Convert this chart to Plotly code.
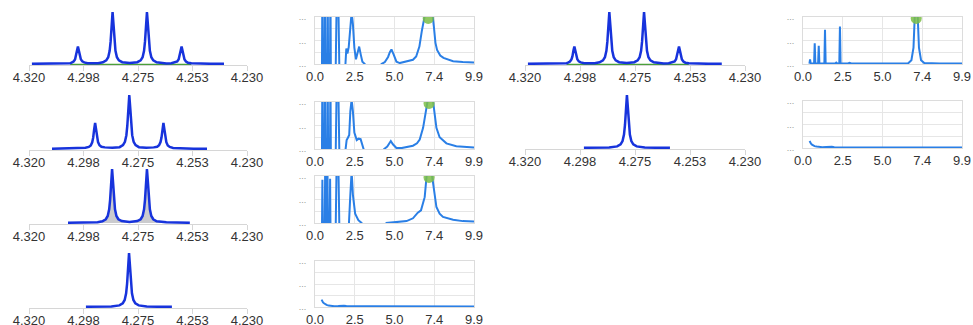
import plotly.graph_objects as go

# ---------------- data ----------------
ppm_ticks = [4.320, 4.2975, 4.275, 4.2525, 4.230]
ppm_labels = ["4.320", "4.298", "4.275", "4.253", "4.230"]
freq_ticks = [0.0, 2.475, 4.95, 7.425, 9.9]
freq_labels = ["0.0", "2.5", "5.0", "7.4", "9.9"]
y_ticks = [0, 0.25, 0.5, 0.75, 1]
y_labels = ["...", "", "...", "", "..."]

# quartet spectrum
q_ppm = [4.3188, 4.3100, 4.3050, 4.3030, 4.3024, 4.3016, 4.3010, 4.3006, 4.3002, 4.2998,
         4.2994, 4.2990, 4.2986, 4.2980, 4.2972, 4.2958, 4.2935, 4.2915, 4.2895, 4.2881,
         4.2873, 4.2867, 4.2863, 4.2859, 4.2855, 4.2851, 4.2847, 4.2843, 4.2837, 4.2829,
         4.2815, 4.2784, 4.2753, 4.2739, 4.2731, 4.2725, 4.2721, 4.2717, 4.2713, 4.2709,
         4.2705, 4.2701, 4.2695, 4.2687, 4.2673, 4.2653, 4.2633, 4.2612, 4.2598, 4.2588,
         4.2582, 4.2578, 4.2574, 4.2570, 4.2566, 4.2562, 4.2558, 4.2552, 4.2544, 4.2530,
         4.2510, 4.2450, 4.2395]
q_int = [0.003, 0.005, 0.010, 0.016, 0.025, 0.047, 0.088, 0.147, 0.253, 0.334,
         0.253, 0.150, 0.090, 0.050, 0.030, 0.015, 0.012, 0.016, 0.032, 0.070,
         0.131, 0.254, 0.434, 0.754, 1.000, 0.754, 0.434, 0.254, 0.131, 0.070,
         0.035, 0.020, 0.035, 0.070, 0.131, 0.254, 0.434, 0.754, 1.000, 0.754,
         0.434, 0.254, 0.131, 0.070, 0.032, 0.016, 0.012, 0.015, 0.030, 0.050,
         0.090, 0.150, 0.253, 0.334, 0.253, 0.147, 0.088, 0.047, 0.025, 0.013,
         0.008, 0.004, 0.003]
fit_ppm = [4.3030, 4.2530]
fit_int = [-0.012, -0.012]

# triplet spectrum
t_ppm = [4.3105, 4.3030, 4.2990, 4.2967, 4.2953, 4.2945, 4.2939, 4.2935, 4.2931, 4.2927,
         4.2923, 4.2919, 4.2915, 4.2909, 4.2901, 4.2887, 4.2856, 4.2826, 4.2812, 4.2804,
         4.2798, 4.2794, 4.2790, 4.2786, 4.2782, 4.2778, 4.2774, 4.2768, 4.2760, 4.2746,
         4.2716, 4.2685, 4.2671, 4.2663, 4.2657, 4.2653, 4.2649, 4.2645, 4.2641, 4.2637,
         4.2633, 4.2627, 4.2619, 4.2605, 4.2570, 4.2520, 4.2465]
t_int = [0.004, 0.008, 0.014, 0.022, 0.038, 0.066, 0.125, 0.210, 0.364, 0.482,
         0.364, 0.212, 0.128, 0.070, 0.042, 0.030, 0.022, 0.034, 0.072, 0.134,
         0.256, 0.436, 0.756, 1.000, 0.756, 0.436, 0.256, 0.134, 0.072, 0.034,
         0.022, 0.030, 0.042, 0.070, 0.128, 0.212, 0.364, 0.482, 0.364, 0.210,
         0.125, 0.066, 0.038, 0.020, 0.010, 0.006, 0.004]

# doublet spectrum
d_ppm = [4.3039, 4.2980, 4.2937, 4.2917, 4.2897, 4.2883, 4.2875, 4.2869, 4.2865, 4.2861,
         4.2857, 4.2853, 4.2849, 4.2845, 4.2839, 4.2831, 4.2817, 4.2785, 4.2753, 4.2739,
         4.2731, 4.2725, 4.2721, 4.2717, 4.2713, 4.2709, 4.2705, 4.2701, 4.2695, 4.2687,
         4.2673, 4.2653, 4.2633, 4.2590, 4.2536]
d_int = [0.004, 0.008, 0.012, 0.016, 0.032, 0.070, 0.131, 0.254, 0.434, 0.754,
         1.000, 0.754, 0.434, 0.254, 0.131, 0.070, 0.035, 0.020, 0.035, 0.070,
         0.131, 0.254, 0.434, 0.754, 1.000, 0.754, 0.434, 0.254, 0.131, 0.070,
         0.032, 0.016, 0.012, 0.008, 0.004]

# singlet spectra
s_ppm = [4.2965, 4.2900, 4.2860, 4.2827, 4.2813, 4.2805, 4.2799, 4.2795, 4.2791, 4.2787,
         4.2783, 4.2779, 4.2775, 4.2769, 4.2761, 4.2747, 4.2714, 4.2670, 4.2610]
s_int = [0.004, 0.006, 0.010, 0.030, 0.068, 0.131, 0.254, 0.434, 0.754, 1.000,
         0.754, 0.434, 0.254, 0.131, 0.068, 0.030, 0.010, 0.006, 0.004]
s2_ppm = [4.2959, 4.2896, 4.2856, 4.2823, 4.2809, 4.2801, 4.2795, 4.2791, 4.2787, 4.2783,
          4.2779, 4.2775, 4.2771, 4.2765, 4.2757, 4.2743, 4.2710, 4.2666, 4.2607]
s2_int = [0.004, 0.006, 0.010, 0.030, 0.068, 0.131, 0.254, 0.434, 0.754, 1.000,
          0.754, 0.434, 0.254, 0.131, 0.068, 0.030, 0.010, 0.006, 0.004]

# second-column curves
a1_x = [0.43, 0.46, 0.49, 0.59, 0.62, 0.65, 0.76, 0.79, 0.82, 0.93, 0.96, 0.99, 1.28, 1.36, 1.44,
        1.53, 1.70, 1.88, 1.95, 2.02, 2.10, 2.20, 2.28, 2.36, 2.45, 2.55, 2.65, 2.75, 2.85, 2.95,
        3.10, 3.30, 3.90, 4.14, 4.35, 4.55, 4.66, 4.76, 4.90, 5.07, 5.28, 5.50, 5.80, 6.10, 6.30,
        6.50, 6.65, 6.75, 6.90, 7.10, 7.30, 7.40, 7.50, 7.60, 7.80, 8.00, 8.30, 8.60, 9.20, 9.90]
a1_y = [-0.3, 1.7, -0.3, -0.3, 1.7, -0.3, -0.3, 1.7, -0.3, -0.3, 1.7, -0.3, -0.3, 1.6, 1.6,
        -0.4, -0.6, -0.1, 0.33, 0.22, 0.36, 0.85, 1.1, 0.85, 0.35, 0.10, 0.22, 0.37, 0.20, 0.05,
        0.0, -0.2, -0.2, 0.0, 0.04, 0.15, 0.25, 0.31, 0.20, 0.05, 0.02, 0.035, 0.06, 0.09, 0.16,
        0.37, 0.70, 1.0, 1.15, 1.2, 1.1, 0.8, 0.45, 0.30, 0.18, 0.13, 0.09, 0.06, 0.04, 0.03]

a2_x = [0.43, 0.46, 0.49, 0.59, 0.62, 0.65, 0.76, 0.79, 0.82, 0.93, 0.96, 0.99, 1.28, 1.36, 1.44,
        1.53, 1.70, 1.90, 1.97, 2.05, 2.13, 2.20, 2.28, 2.36, 2.45, 2.60, 2.72, 2.84, 2.95, 3.04,
        3.20, 4.10, 4.30, 4.50, 4.62, 4.72, 4.85, 5.07, 5.40, 5.80, 6.10, 6.35, 6.52, 6.73, 6.94,
        7.10, 7.30, 7.45, 7.56, 7.76, 8.18, 8.80, 9.90]
a2_y = [-0.3, 1.7, -0.3, -0.3, 1.7, -0.3, -0.3, 1.7, -0.3, -0.3, 1.7, -0.3, -0.3, 1.6, 1.6,
        -0.4, -0.6, -0.1, 0.19, 0.24, 0.30, 0.8, 1.05, 0.8, 0.35, 0.19, 0.22, 0.21, 0.08, 0.0,
        -0.2, -0.2, 0.0, 0.05, 0.12, 0.17, 0.10, 0.02, 0.02, 0.04, 0.07, 0.12, 0.20, 0.45, 0.85,
        1.2, 1.15, 0.75, 0.45, 0.25, 0.12, 0.06, 0.03]

a3_x = [0.43, 0.46, 0.49, 0.60, 0.645, 0.69, 0.72, 0.765, 0.81, 0.91, 0.94, 0.97, 1.28, 1.36, 1.44,
        1.53, 1.80, 2.10, 2.20, 2.28, 2.36, 2.50, 2.70, 2.90, 3.20, 4.30, 4.45, 5.00,
        5.70, 6.10, 6.40, 6.60, 6.83, 6.95, 7.10, 7.25, 7.35, 7.56, 7.76, 7.97, 8.60, 9.20, 9.90]
a3_y = [-0.3, 0.92, -0.3, -0.3, 1.7, -0.3, -0.3, 1.7, -0.3, -0.3, 0.94, -0.3, -0.3, 1.6, 1.6,
        -0.4, -0.5, -0.1, 0.6, 1.1, 0.6, 0.2, 0.06, 0.0, -0.2, -0.2, 0.0, 0.02,
        0.04, 0.10, 0.22, 0.27, 0.55, 1.0, 1.2, 1.1, 0.84, 0.34, 0.2, 0.13, 0.07, 0.04, 0.03]

a4_x = [0.41, 0.45, 0.50, 0.56, 0.63, 0.72, 0.85, 1.00, 1.20, 1.45, 1.65, 1.80, 1.95, 2.20, 2.60,
        3.50, 5.00, 6.50, 8.00, 9.90]
a4_y = [0.16, 0.12, 0.10, 0.08, 0.06, 0.045, 0.03, 0.02, 0.018, 0.02, 0.03, 0.028, 0.02, 0.016, 0.015,
        0.015, 0.014, 0.014, 0.013, 0.013]

# fourth-column curves
b1_x = [0.40, 0.44, 0.48, 0.69, 0.73, 0.77, 0.94, 0.98, 1.02, 1.33, 1.37, 1.41, 2.00, 2.07, 2.14,
        2.26, 2.30, 2.34, 2.80, 2.90, 3.00, 4.20, 4.35, 4.50, 4.70, 4.80, 4.90, 6.55, 6.75, 6.88,
        6.98, 7.05, 7.12, 7.22, 7.35, 7.55, 8.50, 9.90]
b1_y = [0.01, 0.10, 0.01, 0.01, 0.44, 0.01, 0.01, 0.39, 0.01, 0.01, 0.73, 0.01, 0.01, 0.03, 0.01,
        0.01, 0.80, 0.01, 0.01, 0.025, 0.01, 0.01, 0.02, 0.01, 0.012, 0.02, 0.01, 0.015, 0.08, 0.35,
        1.2, 1.5, 1.2, 0.35, 0.08, 0.02, 0.012, 0.01]

b2_x = [0.41, 0.45, 0.50, 0.56, 0.63, 0.72, 0.85, 1.00, 1.20, 1.45, 1.65, 1.80, 1.95, 2.20, 2.60,
        3.50, 5.00, 6.50, 8.00, 9.90]
b2_y = [0.15, 0.11, 0.09, 0.07, 0.055, 0.04, 0.03, 0.02, 0.018, 0.02, 0.028, 0.025, 0.018, 0.015, 0.014,
        0.013, 0.013, 0.012, 0.012, 0.012]

peak_marker_x = [7.05, 7.10, 7.10, 7.05]
peak_marker_y = [0.97, 0.97, 0.97, 0.97]

# ---------------- styling ----------------
W, H = 973, 325
NMR_BLUE = "#1733dc"
SPEC_BLUE = "#2a7fe6"
GREEN = "rgba(125,190,70,0.85)"
AXIS_GRAY = "#d6d6d6"
GRID_GRAY = "#e6e6e6"
FONT = "Liberation Sans, Arial, Helvetica, sans-serif"

fig = go.Figure()
layout = dict(width=W, height=H, margin=dict(l=0, r=0, t=0, b=0, autoexpand=False),
              paper_bgcolor="white", plot_bgcolor="white", showlegend=False,
              font=dict(family=FONT, size=13, color="#333"))

counter = [0]


def new_axes(xdom, ydom, xcfg, ycfg):
    counter[0] += 1
    n = counter[0]
    xa = "xaxis" if n == 1 else f"xaxis{n}"
    ya = "yaxis" if n == 1 else f"yaxis{n}"
    xr = "x" if n == 1 else f"x{n}"
    yr = "y" if n == 1 else f"y{n}"
    layout[xa] = dict(domain=[xdom[0] / W, xdom[1] / W], anchor=yr, automargin=False, **xcfg)
    layout[ya] = dict(domain=[1 - ydom[0] / H, 1 - ydom[1] / H], anchor=xr, automargin=False, **ycfg)
    return xr, yr


def nmr_panel(x0, x1, axis_px, apex_px, x, y, fill=False, fit=False):
    h = axis_px - apex_px
    xcfg = dict(range=[4.320, 4.230], tickvals=ppm_ticks, ticktext=ppm_labels,
                showline=True, linecolor=AXIS_GRAY, linewidth=1,
                ticks="outside", ticklen=5, tickcolor=AXIS_GRAY,
                ticklabelstandoff=-5,
                showgrid=False, zeroline=False,
                tickfont=dict(size=13, color="#333"))
    ycfg = dict(range=[-1.0 / h, 1 + 3.0 / h], visible=False)
    xr, yr = new_axes((x0, x1), (axis_px + 1, apex_px - 3), xcfg, ycfg)
    if fit:
        fig.add_trace(go.Scatter(x=fit_ppm, y=fit_int, mode="lines", xaxis=xr, yaxis=yr,
                                 line=dict(color="#4a9f3a", width=1.5), hoverinfo="skip"))
    fig.add_trace(go.Scatter(x=x, y=y, mode="lines", xaxis=xr, yaxis=yr,
                             line=dict(color=NMR_BLUE, width=2.5),
                             fill="tozeroy" if fill else None,
                             fillcolor="rgba(185,185,190,0.75)" if fill else None))


def spec_panel(x0, x1, top_px, bottom_px, x, y, mk=None):
    xcfg = dict(range=[0, 9.9], tickvals=freq_ticks, ticktext=freq_labels,
                showline=True, mirror=True, linecolor="#dcdcdc", linewidth=1,
                showgrid=True, gridcolor=GRID_GRAY, zeroline=False,
                ticks="outside", ticklen=5, tickcolor="rgba(0,0,0,0)",
                ticklabelstandoff=-5,
                tickfont=dict(size=13, color="#333"))
    ycfg = dict(range=[0, 1], tickvals=y_ticks, ticktext=y_labels,
                showline=True, mirror=True, linecolor="#dcdcdc", linewidth=1,
                showgrid=True, gridcolor=GRID_GRAY, zeroline=False,
                ticks="outside", ticklen=6, tickcolor="rgba(0,0,0,0)",
                tickfont=dict(size=9, color="#999"))
    xr, yr = new_axes((x0, x1), (bottom_px, top_px), xcfg, ycfg)
    fig.add_trace(go.Scatter(x=x, y=y, mode="lines", xaxis=xr, yaxis=yr,
                             line=dict(color=SPEC_BLUE, width=2)))
    if mk is not None:
        fig.add_trace(go.Scatter(x=[peak_marker_x[mk]], y=[peak_marker_y[mk]], mode="markers",
                                 xaxis=xr, yaxis=yr, cliponaxis=True,
                                 marker=dict(size=11, color=GREEN, line=dict(width=0))))


# column 1 (spectra) and column 2 (traces)
nmr_panel(29, 247, 64, 12, q_ppm, q_int, fit=True)
spec_panel(315, 474, 17, 64, a1_x, a1_y, mk=0)
nmr_panel(29, 247, 149, 95, t_ppm, t_int)
spec_panel(315, 474, 102, 149, a2_x, a2_y, mk=1)
nmr_panel(29, 247, 223, 169, d_ppm, d_int, fill=True)
spec_panel(315, 474, 176, 223, a3_x, a3_y, mk=2)
nmr_panel(29, 247, 307, 253, s_ppm, s_int)
spec_panel(315, 474, 261, 307, a4_x, a4_y)

# column 3 and column 4
nmr_panel(525, 745, 64, 12, q_ppm, q_int, fit=True)
spec_panel(803, 962, 17, 64, b1_x, b1_y, mk=3)
nmr_panel(525, 745, 148, 95, s2_ppm, s2_int)
spec_panel(803, 962, 101, 148, b2_x, b2_y)

fig.update_layout(**layout)
fig.write_html("out.html")
